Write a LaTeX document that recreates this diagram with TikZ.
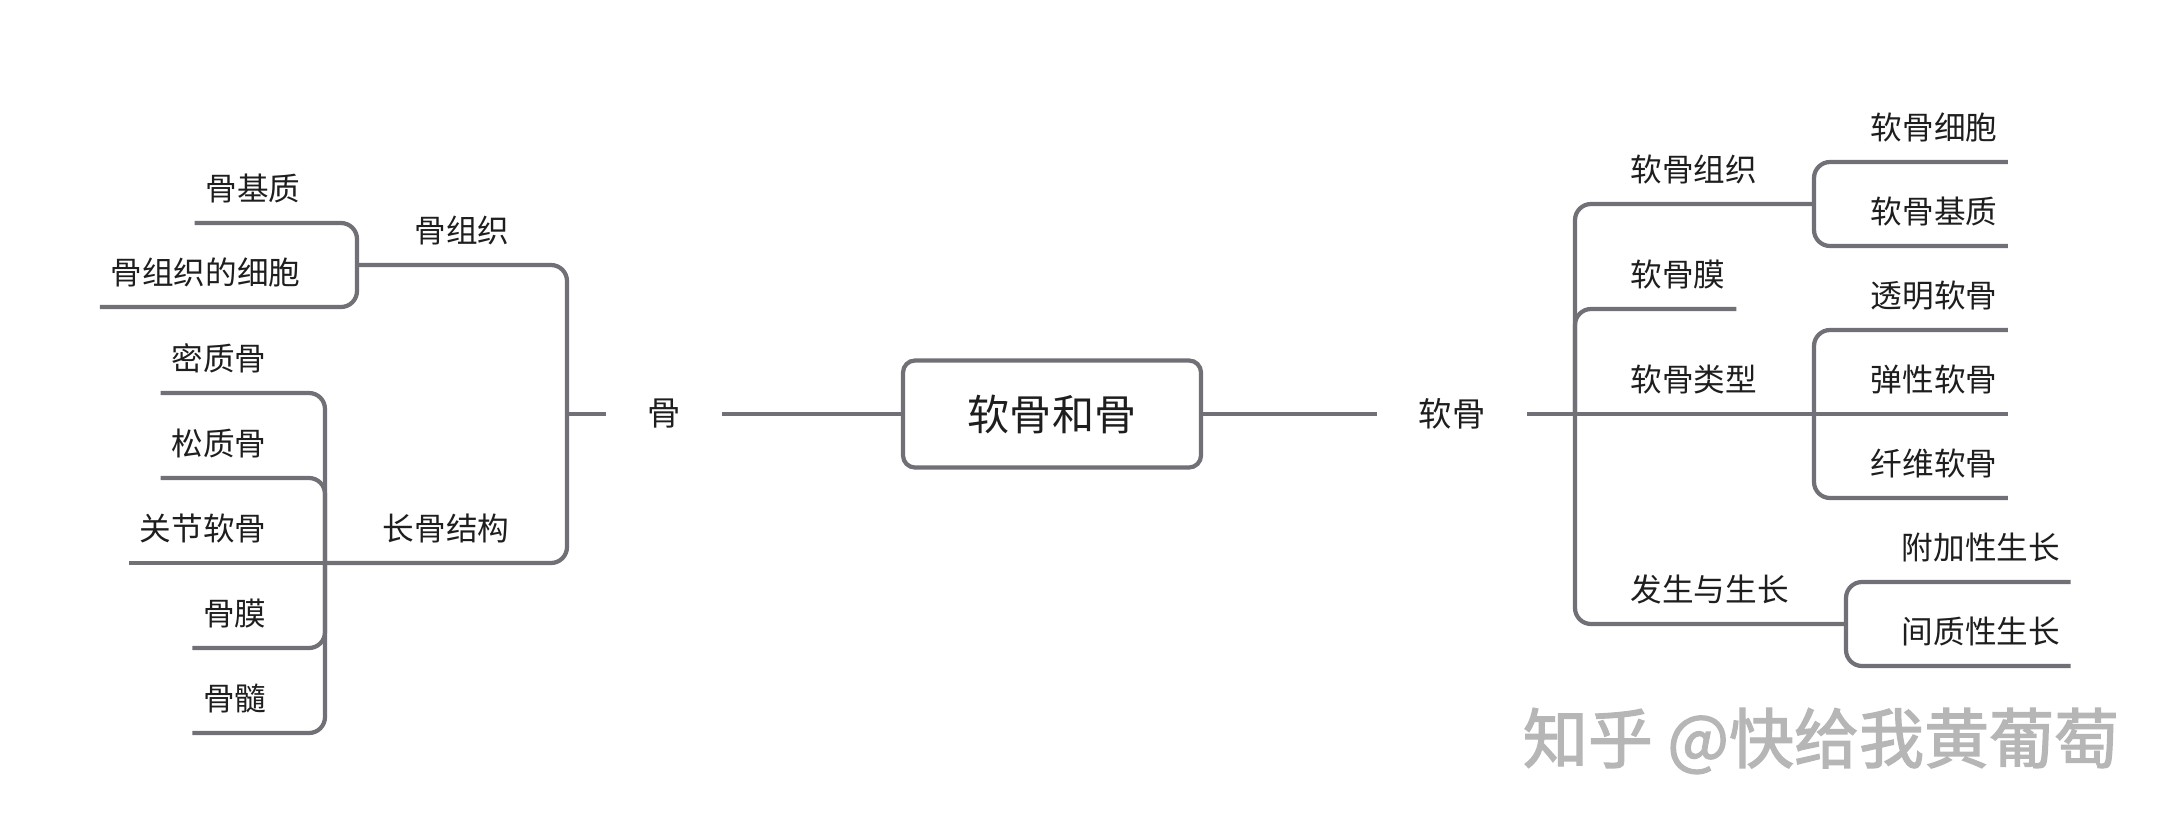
\documentclass[tikz,border=0pt]{standalone}
\usepackage{fontspec}
\setmainfont{Noto Sans CJK SC}
\newfontfamily\markfont[FakeBold=2]{Noto Sans CJK SC}
\definecolor{linegray}{RGB}{112,112,118}
\definecolor{txtblack}{RGB}{30,30,30}
\definecolor{markgray}{RGB}{182,182,182}
\tikzset{
  branch/.style={draw=linegray, line width=1.2pt, rounded corners=0.16cm},
  topic/.style={font=\fontsize{9}{11}\selectfont, text=txtblack, inner xsep=0pt, inner ysep=0.22cm, text depth=0pt},
  mainnode/.style={font=\fontsize{9.5}{11}\selectfont, text=txtblack, inner xsep=0.41cm},
  rootbox/.style={draw=linegray, line width=1.2pt, rounded corners=0.12cm, minimum width=2.98cm, minimum height=1.07cm, font=\fontsize{12}{14}\selectfont, text=txtblack},
  watermark/.style={font=\markfont\fontsize{18.5}{21}\selectfont, text=markgray}
}
\begin{document}
\begin{tikzpicture}
                \useasboundingbox (0,0) rectangle (21.72,-8.31);
                \node [rootbox] (root) at (10.52,-4.14) {软骨和骨};
                \node [mainnode] (gu) at (6.64,-4.14) {骨};
                \node [mainnode] (ruangu) at (14.52,-4.14) {软骨};
                \coordinate (gu-j) at (5.67,-4.14);
                \coordinate (ruangu-j) at (15.75,-4.14);
                \node [topic, anchor=south east] (guzuzhi) at (5.10,-2.65) {骨组织};
                \node [topic, anchor=south east] (changgu) at (5.10,-5.63) {长骨结构};
                \node [topic, anchor=south east] (gujizhi) at (3.01,-2.23) {骨基质};
                \node [topic, anchor=south east] (guxibao) at (3.01,-3.07) {骨组织的细胞};
                \node [topic, anchor=south east] (mizhi) at (2.67,-3.93) {密质骨};
                \node [topic, anchor=south east] (songzhi) at (2.67,-4.78) {松质骨};
                \node [topic, anchor=south east] (guanjie) at (2.67,-5.63) {关节软骨};
                \node [topic, anchor=south east] (gumo) at (2.67,-6.48) {骨膜};
                \node [topic, anchor=south east] (gusui) at (2.67,-7.33) {骨髓};
                \coordinate (guzuzhi-j) at (3.57,-2.65);
                \coordinate (changgu-j) at (3.25,-5.63);
                \node [topic, anchor=south west] (rgzuzhi) at (16.30,-2.04) {软骨组织};
                \node [topic, anchor=south west] (rgmo) at (16.30,-3.09) {软骨膜};
                \node [topic, anchor=south west] (rgleixing) at (16.30,-4.14) {软骨类型};
                \node [topic, anchor=south west] (fasheng) at (16.30,-6.24) {发生与生长};
                \node [topic, anchor=south west] (rgxibao) at (18.70,-1.62) {软骨细胞};
                \node [topic, anchor=south west] (rgjizhi) at (18.70,-2.46) {软骨基质};
                \node [topic, anchor=south west] (touming) at (18.70,-3.30) {透明软骨};
                \node [topic, anchor=south west] (tanxing) at (18.70,-4.14) {弹性软骨};
                \node [topic, anchor=south west] (xianwei) at (18.70,-4.98) {纤维软骨};
                \node [topic, anchor=south west] (fujia) at (19.01,-5.82) {附加性生长};
                \node [topic, anchor=south west] (jianzhi) at (19.01,-6.66) {间质性生长};
                \coordinate (rgzuzhi-j) at (18.14,-2.04);
                \coordinate (rgleixing-j) at (18.14,-4.14);
                \coordinate (fasheng-j) at (18.46,-6.24);
                \node [watermark] (mark) at (18.21,-7.41) {知乎 @快给我黄葡萄};
                \draw [branch] (root.west) -- (gu.east);
                \draw [branch] (gu.west) -- (gu-j);
                \draw [branch] (gu-j) |- (guzuzhi-j);
                \draw [branch] (gu-j) |- (changgu-j);
                \draw [branch] (guzuzhi-j) |- ([xshift=-0.1cm]gujizhi.south west);
                \draw [branch] (guzuzhi-j) |- ([xshift=-0.1cm]guxibao.south west);
                \draw [branch] (changgu-j) |- ([xshift=-0.1cm]mizhi.south west);
                \draw [branch] (changgu-j) |- ([xshift=-0.1cm]songzhi.south west);
                \draw [branch] (changgu-j) -- ([xshift=-0.1cm]guanjie.south west);
                \draw [branch] (changgu-j) |- ([xshift=-0.1cm]gumo.south west);
                \draw [branch] (changgu-j) |- ([xshift=-0.1cm]gusui.south west);
                \draw [branch] (root.east) -- (ruangu.west);
                \draw [branch] (ruangu.east) -- (ruangu-j);
                \draw [branch] (ruangu-j) |- (rgzuzhi-j);
                \draw [branch] (ruangu-j) |- ([xshift=0.1cm]rgmo.south east);
                \draw [branch] (ruangu-j) -- (rgleixing-j);
                \draw [branch] (ruangu-j) |- (fasheng-j);
                \draw [branch] (rgzuzhi-j) |- ([xshift=0.1cm]rgxibao.south east);
                \draw [branch] (rgzuzhi-j) |- ([xshift=0.1cm]rgjizhi.south east);
                \draw [branch] (rgleixing-j) |- ([xshift=0.1cm]touming.south east);
                \draw [branch] (rgleixing-j) -- ([xshift=0.1cm]tanxing.south east);
                \draw [branch] (rgleixing-j) |- ([xshift=0.1cm]xianwei.south east);
                \draw [branch] (fasheng-j) |- ([xshift=0.1cm]fujia.south east);
                \draw [branch] (fasheng-j) |- ([xshift=0.1cm]jianzhi.south east);
            \end{tikzpicture}
\end{document}
